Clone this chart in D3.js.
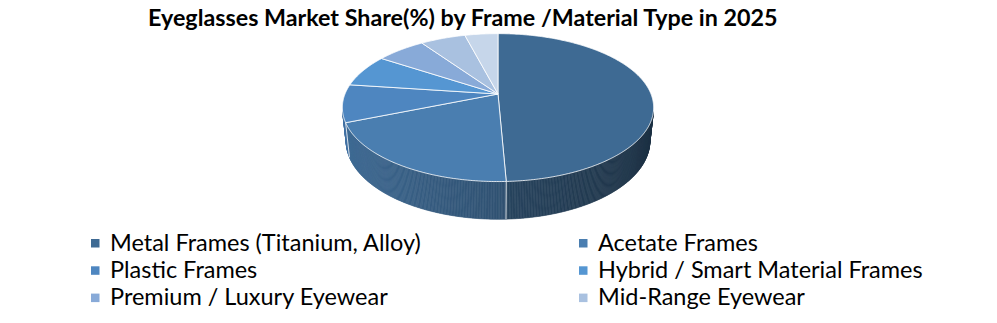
<!DOCTYPE html>
<html>
<head>
<meta charset="utf-8">
<script src="https://cdn.jsdelivr.net/npm/d3@7"></script>
<style>
  html, body { margin: 0; padding: 0; background: #ffffff; }
  svg { display: block; }
</style>
</head>
<body>
<div id="chart"></div>
<script>
// ---- data ----
const titleText = "Eyeglasses Market Share(%) by Frame /Material Type in 2025";
const categories = [
  "Metal Frames (Titanium, Alloy)",
  "Acetate Frames",
  "Plastic Frames",
  "Hybrid / Smart Material Frames",
  "Premium / Luxury Eyewear",
  "Mid-Range Eyewear",
  "Other Frames"
];
const values = [49.3, 19.6, 8.2, 7.1, 6.1, 5.6, 4.1];
const colors = ["#3e6a93", "#4a7eb0", "#4e86c0", "#5596d2", "#88aad8", "#a9c1e0", "#c6d6ea"];
// the 7th legend row falls below the frame in the reference, only 6 are visible
const legendVisible = 6;

// ---- layout ----
const W = 997, H = 323;
const svg = d3.select("#chart").append("svg")
  .attr("width", W).attr("height", H)
  .attr("viewBox", `0 0 ${W} ${H}`);

const FONT = "Lato, 'Open Sans', 'Liberation Sans', sans-serif";

// title
const title = svg.append("text")
  .attr("x", 148).attr("y", 26)
  .attr("font-family", FONT)
  .attr("font-weight", "bold")
  .attr("font-size", 21)
  .attr("fill", "#000")
  .text(titleText);
{
  const target = 630;
  const w = title.node().getComputedTextLength();
  title.attr("font-size", 21 * target / w);
}

// ---- 3D projection ----
const cx = 498, cy = 94, K = 153;
const sinP = 0.467, cosP = 0.884, Dist = 4.81, thick = 0.25;
function proj(x, y, z) {
  const v = y * cosP - z * sinP;
  const w = z * cosP + y * sinP;
  const s = Dist / (Dist - w);
  return [cx + x * K * s, cy - v * K * s];
}
function rim(a, y) { return proj(Math.sin(a), y, -Math.cos(a)); }

const pie = d3.pie().sort(null).value(d => d.value);
const arcs = pie(categories.map((c, i) => ({ name: c, value: values[i], color: colors[i] })));

// visible side range: cos(a) < -1/(D*cosP)
const lim = Math.acos(-1 / (Dist * cosP));
const vis0 = lim, vis1 = 2 * Math.PI - lim;

const step = Math.PI / 360;
const sideG = svg.append("g");
arcs.forEach(d => {
  const a0 = Math.max(d.startAngle, vis0), a1 = Math.min(d.endAngle, vis1);
  if (a1 <= a0) return;
  const n = Math.max(1, Math.ceil((a1 - a0) / step));
  const segs = d3.range(n).map(i => [a0 + (a1 - a0) * i / n, a0 + (a1 - a0) * (i + 1) / n]);
  sideG.selectAll(null).data(segs).enter().append("path")
    .attr("d", s => {
      const p = [rim(s[0], 0), rim(s[1], 0), rim(s[1], -thick), rim(s[0], -thick)];
      return "M" + p.map(q => q.join(",")).join("L") + "Z";
    })
    .each(function (s) {
      const x = Math.sin((s[0] + s[1]) / 2);
      const f = 0.65 - 0.2 * x;
      const c = d3.rgb(d.data.color);
      const col = d3.rgb(c.r * f, c.g * f, c.b * f).formatHex();
      d3.select(this).attr("fill", col).attr("stroke", col).attr("stroke-width", 0.6);
    });
});
// side separators
arcs.forEach(d => {
  const a = d.endAngle;
  if (a > vis0 && a < vis1) {
    const p0 = rim(a, 0), p1 = rim(a, -thick);
    sideG.append("line")
      .attr("x1", p0[0]).attr("y1", p0[1]).attr("x2", p1[0]).attr("y2", p1[1])
      .attr("stroke", "#ffffff").attr("stroke-opacity", 0.8).attr("stroke-width", 1);
  }
});

// top face
const apex = proj(0, 0, 0);
svg.append("g").selectAll("path").data(arcs).enter().append("path")
  .attr("d", d => {
    const n = Math.max(2, Math.ceil((d.endAngle - d.startAngle) / step));
    const pts = d3.range(n + 1).map(i => rim(d.startAngle + (d.endAngle - d.startAngle) * i / n, 0));
    return "M" + apex.join(",") + "L" + pts.map(q => q.join(",")).join("L") + "Z";
  })
  .attr("fill", d => d.data.color)
  .attr("stroke", "#ffffff")
  .attr("stroke-opacity", 0.8)
  .attr("stroke-width", 1)
  .attr("stroke-linejoin", "round");

// ---- legend ----
const legendItems = arcs.slice(0, legendVisible);
const colX = [91, 579];
const rowY = [250.5, 277.8, 305.1];
const lg = svg.append("g").selectAll("g").data(legendItems).enter().append("g")
  .attr("transform", (d, i) => `translate(${colX[i % 2]},${rowY[Math.floor(i / 2)]})`);
lg.append("rect")
  .attr("x", 0).attr("y", -11.5).attr("width", 8.5).attr("height", 8.5)
  .attr("fill", d => d.data.color);
const lt = lg.append("text")
  .attr("x", 19).attr("y", 0)
  .attr("font-family", FONT)
  .attr("font-size", 21)
  .attr("fill", "#000")
  .text(d => d.data.name);
{
  const w = lt.filter((d, i) => i === 0).node().getComputedTextLength();
  lt.attr("font-size", 21 * 311 / w);
}
</script>
</body>
</html>
